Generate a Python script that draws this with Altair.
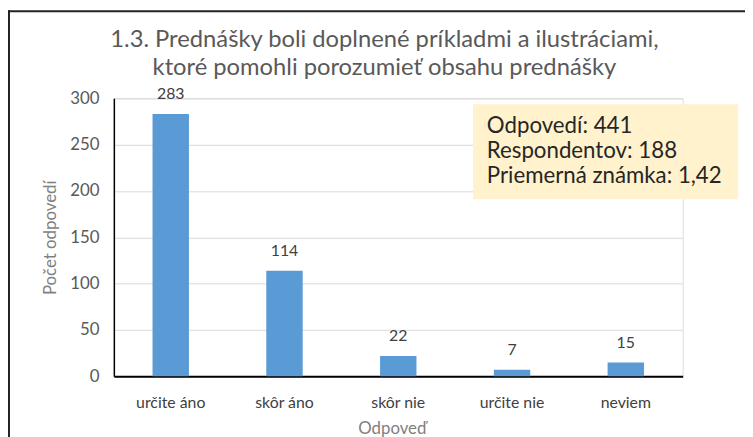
import altair as alt
import pandas as pd

categories = ["určite áno", "skôr áno", "skôr nie", "určite nie", "neviem"]
counts = [283, 114, 22, 7, 15]
title_lines = ["1.3. Prednášky boli doplnené príkladmi a ilustráciami,",
               "ktoré pomohli porozumieť obsahu prednášky"]
stats_lines = ["Odpovedí: 441", "Respondentov: 188", "Priemerná známka: 1,42"]
y_ticks = [0, 50, 100, 150, 200, 250, 300]

df = pd.DataFrame({"cat": categories, "n": counts})
one = pd.DataFrame({"a": [0]})

FONT = "Lato"
W, H = 575, 281

x_enc = alt.X("cat:N", sort=categories, title="Odpoveď",
              scale=alt.Scale(paddingInner=0.68, paddingOuter=0.34),
              axis=alt.Axis(labelAngle=0, ticks=False, domainColor="#000000",
                            domainWidth=2, labelColor="#404040", labelFontSize=16,
                            labelPadding=19, titleColor="#7f7f7f", titleFontSize=17,
                            titleFontWeight="normal", titlePadding=10, titleX=281,
                            labelFont=FONT, titleFont=FONT))
y_enc = alt.Y("n:Q", title="Počet odpovedí",
              scale=alt.Scale(domain=[0, 300], nice=False),
              axis=alt.Axis(values=y_ticks, ticks=False, domainColor="#000000",
                            domainWidth=1.5, gridColor="#d9d9d9", gridWidth=1,
                            labelColor="#595959", labelFontSize=17, labelPadding=15,
                            titleColor="#7f7f7f", titleFontSize=17,
                            titleFontWeight="normal", titlePadding=10,
                            labelFont=FONT, titleFont=FONT))

bars = alt.Chart(df).mark_bar(color="#5B9BD5").encode(x=x_enc, y=y_enc)
labels = alt.Chart(df).mark_text(font=FONT, fontSize=16, color="#404040",
                                 baseline="alphabetic", dy=-15).encode(
    x=alt.X("cat:N", sort=categories), y="n:Q", text="n:Q")

box = alt.Chart(one).mark_rect(color="#FFF2CC").encode(
    x=alt.value(363), x2=alt.value(631), y=alt.value(6), y2=alt.value(102))
stats = alt.Chart(one).mark_text(font=FONT, fontSize=22.5, color="#262626",
                                 align="left", baseline="alphabetic",
                                 lineHeight=25.5).encode(
    x=alt.value(377), y=alt.value(35), text=alt.value(stats_lines))

border_left = alt.Chart(one).mark_rule(color="#222222", strokeWidth=2).encode(
    x=alt.value(-106), y=alt.value(-89), y2=alt.value(345))
border_top = alt.Chart(one).mark_rule(color="#222222", strokeWidth=2).encode(
    y=alt.value(-88), x=alt.value(-107), x2=alt.value(645))

chart = alt.layer(bars, labels, box, stats, border_left, border_top).properties(
    width=W, height=H,
    title=alt.TitleParams(text=title_lines, font=FONT, fontSize=24, color="#595959",
                          fontWeight="normal", anchor="middle", dx=-14, dy=71,
                          offset=0, lineHeight=28, frame="group"),
    autosize=alt.AutoSizeParams(type="none"),
    padding={"left": 107, "top": 89, "right": 63, "bottom": 59},
).configure_view(stroke=None).configure(background="white")

chart.save("out.html", embed_options={"renderer": "svg", "actions": False})
